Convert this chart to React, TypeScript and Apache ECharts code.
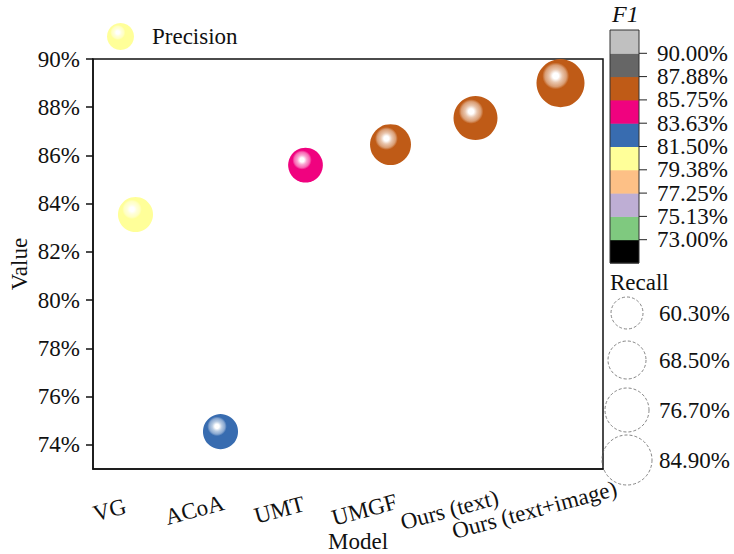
import React, { useEffect, useRef } from 'react';
import * as echarts from 'echarts';

const models = ['VG', 'ACoA', 'UMT', 'UMGF', 'Ours (text)', 'Ours (text+image)'];
const precision = [83.55, 74.55, 85.6, 86.45, 87.55, 89.0];
const recall = [64.5, 64.5, 64.0, 72.5, 76.7, 82.2];
const f1 = [80.5, 82.5, 84.7, 86.6, 87.0, 87.4];
const yTicks = [74, 76, 78, 80, 82, 84, 86, 88, 90];
const f1Breaks = [73.0, 75.13, 77.25, 79.38, 81.5, 83.63, 85.75, 87.88, 90.0];
const f1Colors = ['#000000', '#7fc97f', '#beaed4', '#fdc086', '#ffff99', '#386cb0', '#f0027f', '#bf5b17', '#666666', '#c0c0c0'];
const recallLegend = [60.3, 68.5, 76.7, 84.9];

const FONT = "'Liberation Serif', 'Times New Roman', serif";
const FS = 23;

function sizeOf(r: number) {
  return 2 * (16 + (r - 60.3) * 0.366);
}

function colorOf(v: number) {
  let i = 0;
  while (i < f1Breaks.length && v >= f1Breaks[i]) i++;
  return f1Colors[i];
}

function mix(hex: string, t: number) {
  const n = parseInt(hex.slice(1), 16);
  const r = (n >> 16) & 255, g = (n >> 8) & 255, b = n & 255;
  const f = (c: number) => Math.round(c + (255 - c) * t);
  return `rgb(${f(r)},${f(g)},${f(b)})`;
}

function sphere(base: string) {
  return new echarts.graphic.RadialGradient(0.4, 0.35, 0.62, [
    { offset: 0, color: '#ffffff' },
    { offset: 0.1, color: '#ffffff' },
    { offset: 0.22, color: mix(base, 0.65) },
    { offset: 0.36, color: mix(base, 0.4) },
    { offset: 0.45, color: base },
    { offset: 1, color: base },
  ]);
}

export default function App() {
  const ref = useRef<HTMLDivElement>(null);
  useEffect(() => {
    if (!ref.current) return;
    const chart = echarts.init(ref.current, undefined, { renderer: 'svg' });

    const barX = 610, barTop = 30, barW = 29, bandH = 23.3;
    const graphics: any[] = [];
    graphics.push({
      type: 'text', left: 612, top: 2,
      style: { text: 'F1', font: `italic 24px ${FONT}`, fill: '#111' },
    });
    f1Colors.forEach((c, i) => {
      graphics.push({
        type: 'rect',
        shape: { x: barX, y: barTop + (f1Colors.length - 1 - i) * bandH, width: barW, height: bandH + 0.5 },
        style: { fill: c },
      });
    });
    graphics.push({
      type: 'rect',
      shape: { x: barX, y: barTop, width: barW, height: bandH * f1Colors.length },
      style: { fill: 'none', stroke: '#333', lineWidth: 1 },
    });
    f1Breaks.forEach((b, i) => {
      const y = barTop + (f1Colors.length - 1 - i) * bandH;
      graphics.push({
        type: 'line',
        shape: { x1: barX + barW, y1: y, x2: barX + barW + 8, y2: y },
        style: { stroke: '#222', lineWidth: 1 },
      });
      graphics.push({
        type: 'text', x: 657, y,
        style: { text: b.toFixed(2) + '%', font: `${FS}px ${FONT}`, fill: '#111', verticalAlign: 'middle', align: 'left' },
      });
    });
    graphics.push({
      type: 'text', x: 610, y: 282,
      style: { text: 'Recall', font: `${FS}px ${FONT}`, fill: '#111', verticalAlign: 'middle', align: 'left' },
    });
    const circleY = [313, 360, 410, 460];
    recallLegend.forEach((r, i) => {
      graphics.push({
        type: 'circle',
        shape: { cx: 627, cy: circleY[i], r: sizeOf(r) / 2 },
        style: { fill: 'none', stroke: '#666', lineWidth: 0.8, lineDash: [3, 2] },
      });
      graphics.push({
        type: 'text', x: 659, y: circleY[i],
        style: { text: r.toFixed(2) + '%', font: `${FS}px ${FONT}`, fill: '#111', verticalAlign: 'middle', align: 'left' },
      });
    });

    chart.setOption({
      animation: false,
      textStyle: { fontFamily: FONT },
      grid: { left: 93, top: 59, width: 510, height: 410, outerBoundsMode: 'none', show: true, borderColor: '#111', borderWidth: 1.5 },
      legend: {
        left: 107, top: 23, padding: 0,
        itemWidth: 27, itemHeight: 27, icon: 'circle',
        textStyle: { fontFamily: FONT, fontSize: FS, color: '#111', padding: [0, 0, 0, 13] },
        data: ['Precision'],
      },
      xAxis: {
        type: 'category',
        data: models,
        boundaryGap: true,
        name: 'Model',
        nameLocation: 'middle',
        nameGap: 61,
        nameMoveOverlap: false,
        nameTextStyle: { fontFamily: FONT, fontSize: FS, color: '#111', padding: [0, 0, 0, 20] },
        axisLine: { lineStyle: { color: '#111', width: 1.5 } },
        axisTick: { alignWithLabel: true, inside: false, length: 7, lineStyle: { color: '#111', width: 1.5 } },
        axisLabel: {
          interval: 0, rotate: 15, align: 'center', verticalAlign: 'top', margin: 22,
          padding: [0, 60, 0, 0],
          fontFamily: FONT, fontSize: FS, color: '#111',
        },
        splitLine: { show: false },
      },
      yAxis: {
        type: 'value',
        min: 73, max: 90,
        name: 'Value',
        nameLocation: 'middle',
        nameGap: 62,
        nameMoveOverlap: false,
        nameTextStyle: { fontFamily: FONT, fontSize: FS, color: '#111' },
        axisLine: { show: true, lineStyle: { color: '#111', width: 1.5 } },
        axisTick: { show: true, inside: false, length: 7, customValues: yTicks, lineStyle: { color: '#111', width: 1.5 } },
        axisLabel: {
          customValues: yTicks, margin: 13,
          formatter: (v: number) => `${v}%`,
          fontFamily: FONT, fontSize: FS, color: '#111',
        },
        splitLine: { show: false },
      },
      series: [
        {
          name: 'Precision',
          type: 'scatter',
          symbol: 'circle',
          itemStyle: { color: sphere('#ffff99'), opacity: 1 },
          data: precision.map((p, i) => ({
            value: p,
            symbolSize: sizeOf(recall[i]),
            itemStyle: { color: sphere(colorOf(f1[i])), opacity: 1 },
          })),
        },
      ],
      graphic: graphics,
    });
    return () => chart.dispose();
  }, []);
  return <div ref={ref} style={{ position: 'absolute', left: 0, top: 0, width: 734, height: 554, background: '#fff' }} />;
}
